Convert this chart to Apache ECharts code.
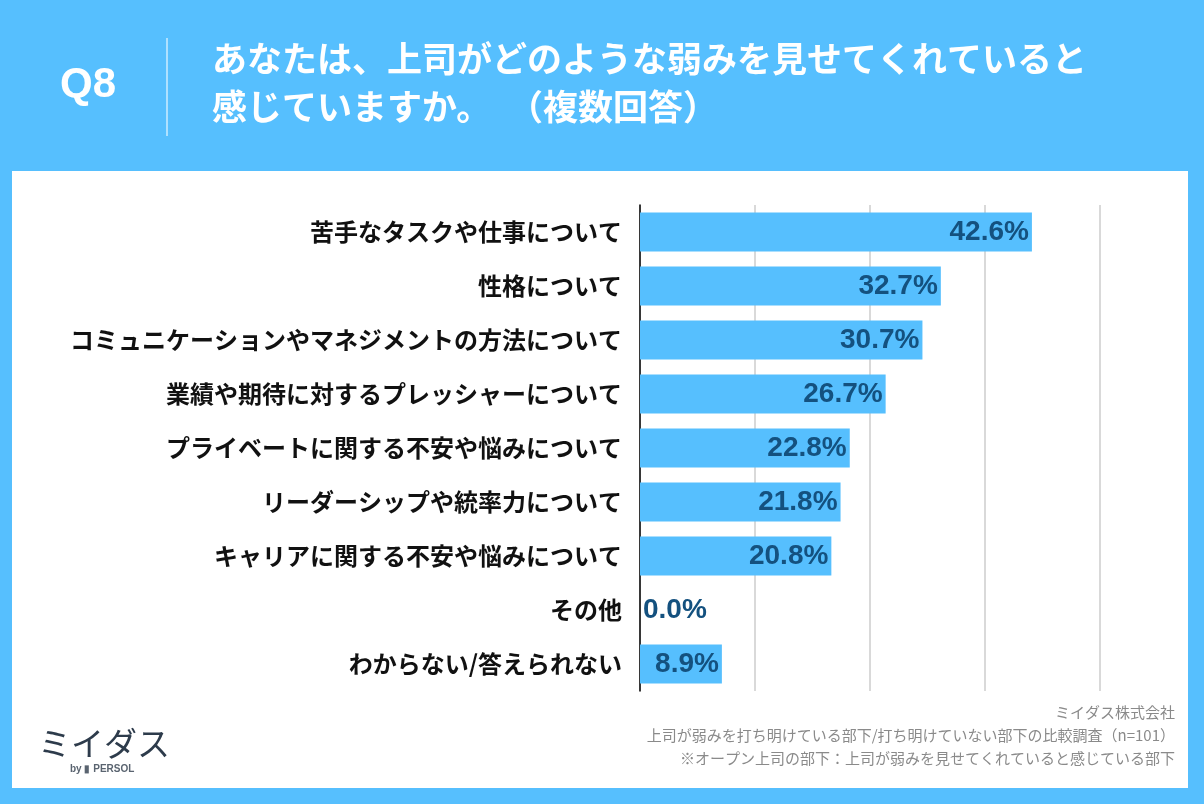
<!DOCTYPE html>
<html><head><meta charset="utf-8">
<script src="https://cdn.jsdelivr.net/npm/echarts@6/dist/echarts.min.js"></script>
<style>html,body{margin:0;padding:0;background:#56BFFE;}#c{width:1204px;height:804px;}</style>
</head><body><div id="c"></div>
<script>
const categories = [
  "苦手なタスクや仕事について",
  "性格について",
  "コミュニケーションやマネジメントの方法について",
  "業績や期待に対するプレッシャーについて",
  "プライベートに関する不安や悩みについて",
  "リーダーシップや統率力について",
  "キャリアに関する不安や悩みについて",
  "その他",
  "わからない/答えられない"
];
const values = [42.6, 32.7, 30.7, 26.7, 22.8, 21.8, 20.8, 0.0, 8.9];
const titleLine1 = "あなたは、上司がどのような弱みを見せてくれていると";
const titleLine2a = "感じていますか。";
const titleLine2b = "（複数回答）";
const footLines = ["ミイダス株式会社", "上司が弱みを打ち明けている部下/打ち明けていない部下の比較調査（n=101）", "※オープン上司の部下：上司が弱みを見せてくれていると感じている部下"];

const JP = '"Noto Sans CJK JP", "Noto Sans", sans-serif';
const NUM = '"Liberation Sans", Arial, sans-serif';
const chart = echarts.init(document.getElementById('c'));
const footGraphics = footLines.map((t, i) => ({
  type: 'text', right: 29, top: 705 + i * 23,
  style: {text: t, fill: '#8a8a8a', font: '15px ' + JP}
}));
const titleFont = 'bold 35px ' + JP;
chart.setOption({
  backgroundColor: '#56BFFE',
  animation: false,
  grid: {left: 640, right: 104, top: 205, bottom: 113},
  xAxis: {type: 'value', min: 0, max: 50, interval: 12.5,
    axisLabel: {show: false}, axisLine: {show: false}, axisTick: {show: false},
    splitLine: {lineStyle: {color: '#cccccc', width: 1.5}}},
  yAxis: {type: 'category', inverse: true, data: categories,
    axisLine: {lineStyle: {color: '#000', width: 1.5}}, axisTick: {show: false},
    axisLabel: {color: '#111', fontSize: 24, fontWeight: 'bold', fontFamily: JP, margin: 18}},
  graphic: [
    {type: 'rect', shape: {x: 12, y: 171, width: 1176, height: 617}, style: {fill: '#ffffff'}, z: -10},
    {type: 'text', left: 60, top: 64, style: {text: 'Q8', fill: '#fff', font: 'bold 42px ' + NUM}},
    {type: 'line', shape: {x1: 167, y1: 38, x2: 167, y2: 136}, style: {stroke: 'rgba(255,255,255,0.7)', lineWidth: 1.5}},
    {type: 'text', left: 212, top: 41, style: {text: titleLine1, fill: '#fff', font: titleFont}},
    {type: 'text', left: 212, top: 89, style: {text: titleLine2a, fill: '#fff', font: titleFont}},
    {type: 'text', left: 508, top: 89, style: {text: titleLine2b, fill: '#fff', font: titleFont}},
    ...footGraphics,
    {type: 'text', left: 38, top: 727, style: {text: 'ミイダス', fill: '#2d3b4b', font: '33px ' + JP}},
    {type: 'text', left: 70, top: 764, style: {text: 'by ▮ PERSOL', fill: '#5a6470', font: 'bold 10px ' + NUM}}
  ],
  series: [{
    type: 'bar', barWidth: '72%',
    data: values.map(v => v === 0 ? {value: v, label: {position: 'right', distance: 3}} : v),
    itemStyle: {color: '#56BFFE'},
    label: {show: true, position: 'insideRight', distance: 3, color: '#14517f', fontSize: 28, fontWeight: 'bold', fontFamily: NUM,
      formatter: p => p.value.toFixed(1) + '%'}
  }]
});
</script></body></html>
